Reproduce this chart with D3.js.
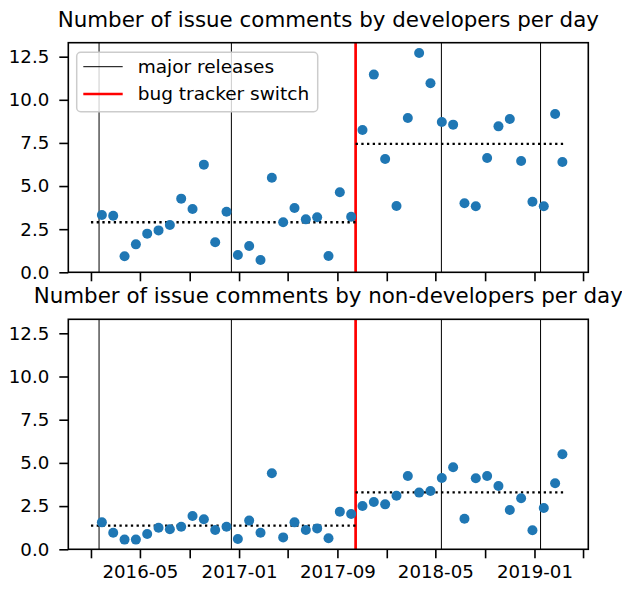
<!DOCTYPE html>
<html lang="en">
<head>
<meta charset="UTF-8">
<title>Issue comments per day</title>
<script src="https://d3js.org/d3.v7.min.js"></script>
<style>
  body { margin: 0; background: #fff; }
  text { font-family: "DejaVu Sans", sans-serif; fill: #000; }
</style>
</head>
<body>
<div id="chart"></div>
<script>
// 4-week bins (last one is partial)
const binDates = [
  "2016-01-28", "2016-02-25", "2016-03-24", "2016-04-21", "2016-05-19", "2016-06-16",
  "2016-07-14", "2016-08-11", "2016-09-08", "2016-10-06", "2016-11-03", "2016-12-01",
  "2016-12-29", "2017-01-26", "2017-02-23", "2017-03-23", "2017-04-20", "2017-05-18",
  "2017-06-15", "2017-07-13", "2017-08-10", "2017-09-07", "2017-10-05", "2017-11-02",
  "2017-11-30", "2017-12-28", "2018-01-25", "2018-02-22", "2018-03-22", "2018-04-19",
  "2018-05-17", "2018-06-14", "2018-07-12", "2018-08-09", "2018-09-06", "2018-10-04",
  "2018-11-01", "2018-11-29", "2018-12-27", "2019-01-24", "2019-02-21", "2019-03-11"
];
const devComments = [
  3.32, 3.28, 0.93, 1.62, 2.24, 2.43, 2.74, 4.27, 3.67, 6.24, 1.74, 3.51,
  1.00, 1.52, 0.71, 5.48, 2.90, 3.73, 3.07, 3.19, 0.94, 4.64, 3.22, 8.25,
  11.46, 6.57, 3.84, 8.94, 12.71, 10.96, 8.71, 8.56, 4.00, 3.83, 6.63, 8.46,
  8.89, 6.45, 4.09, 3.83, 9.18, 6.39
];
const nonDevComments = [
  1.56, 0.96, 0.56, 0.56, 0.89, 1.25, 1.16, 1.31, 1.93, 1.74, 1.12, 1.31,
  0.60, 1.66, 0.96, 4.40, 0.69, 1.56, 1.12, 1.21, 0.64, 2.18, 2.04, 2.51,
  2.74, 2.60, 3.10, 4.24, 3.28, 3.37, 4.13, 4.75, 1.77, 4.11, 4.24, 3.66,
  2.27, 2.95, 1.10, 2.39, 3.82, 5.50
];
const releaseDates = ["2016-01-21", "2016-12-13", "2018-05-16", "2019-01-16"];
const trackerSwitch = "2017-10-16";
const periodStarts = ["2016-01-01", "2017-10-16"];
const periodEnds = ["2017-10-16", "2019-03-15"];
const devMeans = [2.90, 7.44];
const nonDevMeans = [1.37, 3.30];
const xTickDates = ["2016-01-01", "2016-05-01", "2016-09-01", "2017-01-01", "2017-05-01",
  "2017-09-01", "2018-01-01", "2018-05-01", "2018-09-01", "2019-01-01", "2019-05-01"];
const xTickLabels = ["", "2016-05", "", "2017-01", "", "2017-09", "", "2018-05", "", "2019-01", ""];
const yTicks = [0, 2.5, 5, 7.5, 10, 12.5];

const parse = d3.timeParse("%Y-%m-%d");
const width = 622, height = 589;
const left = 68.3, right = 588.3;

const svg = d3.select("#chart").append("svg")
  .attr("width", width).attr("height", height);

const x = d3.scaleTime()
  .domain([parse("2015-11-06"), parse("2019-05-14")])
  .range([left, right]);

function panel(top, bottom, title, values, means, showXLabels) {
  const y = d3.scaleLinear().domain([0, 13.31]).range([bottom, top]);
  const g = svg.append("g");

  // release lines
  g.selectAll(".release")
    .data(releaseDates)
    .enter().append("line")
    .attr("x1", d => x(parse(d))).attr("x2", d => x(parse(d)))
    .attr("y1", top).attr("y2", bottom)
    .attr("stroke", "#000").attr("stroke-width", 1);

  g.append("line")
    .attr("x1", x(parse(trackerSwitch))).attr("x2", x(parse(trackerSwitch)))
    .attr("y1", top).attr("y2", bottom)
    .attr("stroke", "#ff0000").attr("stroke-width", 2.7);

  // period means
  g.selectAll(".mean")
    .data(means)
    .enter().append("line")
    .attr("x1", (d, i) => x(parse(periodStarts[i])))
    .attr("x2", (d, i) => x(parse(periodEnds[i])))
    .attr("y1", d => y(d)).attr("y2", d => y(d))
    .attr("stroke", "#000").attr("stroke-width", 2.3)
    .attr("stroke-dasharray", "2.3,3.4");

  g.selectAll(".dot")
    .data(values)
    .enter().append("circle")
    .attr("cx", (d, i) => x(parse(binDates[i])))
    .attr("cy", d => y(d))
    .attr("r", 5)
    .attr("fill", "#1f77b4");

  // y axis
  const yAxis = g.append("g")
    .attr("transform", `translate(${left},0)`)
    .call(d3.axisLeft(y).tickValues(yTicks).tickFormat(d3.format(".1f")).tickSize(9).tickPadding(10));
  yAxis.select(".domain").remove();
  yAxis.selectAll("line").attr("stroke-width", 1.6);
  yAxis.selectAll("text").style("font-size", "18.2px").attr("fill", "#000");

  // x axis
  const xAxis = g.append("g")
    .attr("transform", `translate(0,${bottom})`)
    .call(d3.axisBottom(x).tickValues(xTickDates.map(parse))
      .tickFormat((d, i) => showXLabels ? xTickLabels[i] : "")
      .tickSize(9).tickPadding(7));
  xAxis.select(".domain").remove();
  xAxis.selectAll("line").attr("stroke-width", 1.6);
  xAxis.selectAll("text").style("font-size", "18.2px").attr("fill", "#000");

  g.append("rect")
    .attr("x", left).attr("y", top)
    .attr("width", right - left).attr("height", bottom - top)
    .attr("fill", "none").attr("stroke", "#000").attr("stroke-width", 1.6);

  g.append("text")
    .attr("x", (left + right) / 2).attr("y", top - 16)
    .attr("text-anchor", "middle")
    .style("font-size", "21.4px")
    .text(title);
}

panel(42.7, 272.3, "Number of issue comments by developers per day", devComments, devMeans, false);
panel(319.3, 549.3, "Number of issue comments by non-developers per day", nonDevComments, nonDevMeans, true);

// legend
const legend = svg.append("g").attr("transform", "translate(76.7,52.3)");
legend.append("rect")
  .attr("width", 241).attr("height", 59.4).attr("rx", 4)
  .attr("fill", "#fff").attr("fill-opacity", 0.8)
  .attr("stroke", "#cccccc").attr("stroke-width", 1.5);
const legendItems = [
  { label: "major releases", color: "#000", w: 1 },
  { label: "bug tracker switch", color: "#ff0000", w: 2.7 }
];
legendItems.forEach((d, i) => {
  const cy = 14.4 + i * 27.3;
  legend.append("line")
    .attr("x1", 6.6).attr("x2", 46).attr("y1", cy).attr("y2", cy)
    .attr("stroke", d.color).attr("stroke-width", d.w);
  legend.append("text")
    .attr("x", 61).attr("y", cy + 6.4)
    .style("font-size", "18.5px")
    .text(d.label);
});
</script>
</body>
</html>
